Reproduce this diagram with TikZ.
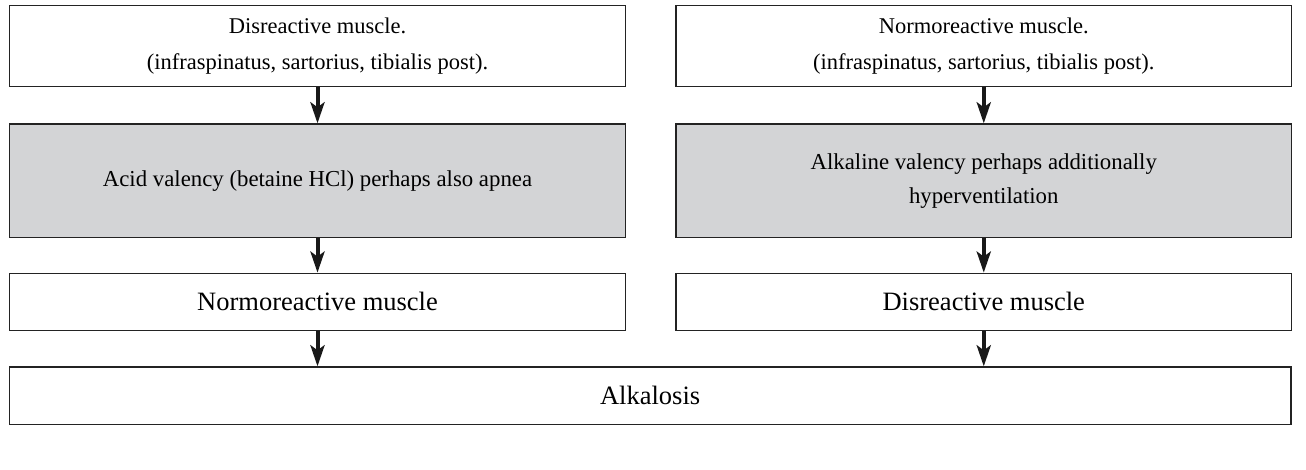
\documentclass[tikz,border=0pt]{standalone}
\usepackage{fontspec}
\setmainfont{Liberation Serif}
\usetikzlibrary{arrows.meta}
\definecolor{boxgrey}{RGB}{211,212,214}
\definecolor{edge}{RGB}{35,35,35}
\tikzset{
  box/.style={draw=edge, line width=1.3pt, fill=white, align=center, inner sep=0pt,
    font=\fontsize{22.5}{36}\selectfont, text=black},
  bigbox/.style={box, font=\fontsize{26.5}{34}\selectfont},
  greybox/.style={box, fill=boxgrey, font=\fontsize{22.8}{34}\selectfont},
  flow/.style={draw=black!90, line width=4pt, -{Stealth[length=21pt,width=14pt,inset=5pt]}}
}
\begin{document}
\begin{tikzpicture}[x=1pt,y=1pt]
\useasboundingbox (0,0) rectangle (1306,469);
\node[box, minimum width=616.4pt, minimum height=81.2pt] (t1) at (317.5,422.9)
  {Disreactive muscle.\\(infraspinatus, sartorius, tibialis post).};
\node[box, minimum width=615.5pt, minimum height=81.2pt] (t2) at (983.75,422.9)
  {Normoreactive muscle.\\(infraspinatus, sartorius, tibialis post).};
\node[greybox, minimum width=616.4pt, minimum height=113.7pt] (g1) at (317.5,288.15)
  {Acid valency (betaine HCl) perhaps also apnea};
\node[greybox, minimum width=615.5pt, minimum height=113.7pt] (g2) at (983.75,288.15)
  {Alkaline valency perhaps additionally\\hyperventilation};
\node[bigbox, minimum width=616.4pt, minimum height=57.2pt] (m1) at (317.5,167.1)
  {Normoreactive muscle};
\node[bigbox, minimum width=615.5pt, minimum height=57.2pt] (m2) at (983.75,167.1)
  {Disreactive muscle};
\node[bigbox, minimum width=1281.7pt, minimum height=57.7pt] (alk) at (650.15,73.15)
  {Alkalosis};
\draw[flow] (t1.south) -- (g1.north);
\draw[flow] (t2.south) -- (g2.north);
\draw[flow] (g1.south) -- (m1.north);
\draw[flow] (g2.south) -- (m2.north);
\draw[flow] (m1.south) -- (m1.south |- alk.north);
\draw[flow] (m2.south) -- (m2.south |- alk.north);
\end{tikzpicture}
\end{document}
